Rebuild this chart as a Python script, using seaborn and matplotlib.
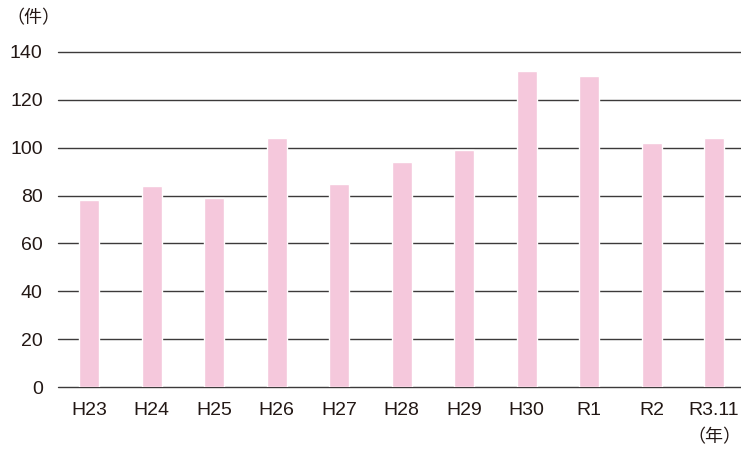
import matplotlib
matplotlib.use("Agg")
import matplotlib.pyplot as plt
import seaborn as sns
import pandas as pd

categories = ["H23", "H24", "H25", "H26", "H27", "H28", "H29", "H30", "R1", "R2", "R3.11"]
values = [78, 84, 79, 104, 85, 94, 99, 132, 130, 102, 104]
yticks = [0, 20, 40, 60, 80, 100, 120, 140]

sns.set_theme(style="white")
plt.rcParams["font.family"] = ["Liberation Sans", "Noto Sans CJK JP", "DejaVu Sans"]

df = pd.DataFrame({"year": categories, "count": values})

fig = plt.figure(figsize=(7.41, 4.51), dpi=100)
ax = fig.add_axes([58 / 741, 64 / 451, 1 - 58 / 741, 335 / 451])

text_color = "#231815"
for t in yticks:
    ax.axhline(t, color="#3c3a3a", linewidth=1.0, zorder=0, clip_on=False)

sns.barplot(data=df, x="year", y="count", color="#F5C8DC", width=0.32,
            saturation=1, ax=ax, zorder=2)

ax.set_ylim(0, 140)
ax.set_xlim(-0.5, 10.43)
ax.set_yticks(yticks)
ax.set_yticklabels([str(t) for t in yticks])
ax.tick_params(axis="both", length=0, labelsize=14, labelcolor=text_color)
ax.tick_params(axis="y", pad=11)
ax.tick_params(axis="x", pad=11)
for s in ax.spines.values():
    s.set_visible(False)
ax.set_xlabel("")
ax.set_ylabel("")

fig.text(6 / 741, 1 - 18 / 451, "（件）", fontsize=13,
         family=["Noto Sans CJK JP", "DejaVu Sans"], color=text_color,
         ha="left", va="center")
fig.text(741 / 741, 1 - 437 / 451, "（年）", fontsize=13,
         family=["Noto Sans CJK JP", "DejaVu Sans"], color=text_color,
         ha="right", va="center")

fig.savefig("out.png", dpi=100)
